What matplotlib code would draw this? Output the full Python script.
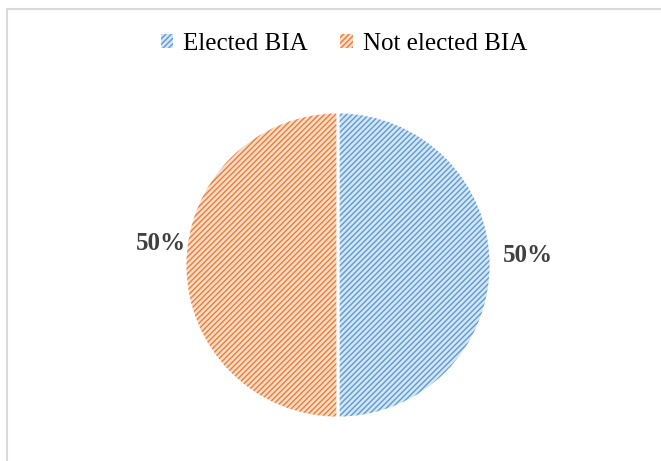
import matplotlib.pyplot as plt
from matplotlib.patches import Rectangle

labels = ["Elected BIA", "Not elected BIA"]
shares = [50, 50]
line_colors = ["#5b9bd5", "#ed7d31"]
fill_colors = ["#d5e5f5", "#fadccb"]

plt.rcParams['font.family'] = ['Liberation Serif', 'DejaVu Serif']

fig = plt.figure(figsize=(6.61, 4.61), dpi=100)
ax = fig.add_axes([0.222, 0.0103, 0.5787, 0.8297])

# hatched wedges (hatch takes the edge colour, edge itself hidden)
wedges, texts, autotexts = ax.pie(shares, startangle=90, counterclock=False,
                                  colors=fill_colors, autopct='%1.0f%%',
                                  pctdistance=1.2,
                                  wedgeprops=dict(linewidth=0, hatch='//////'),
                                  textprops=dict(fontsize=18, fontweight='bold',
                                                 color='#404040'))
for w, c in zip(wedges, line_colors):
    w.set_edgecolor(c)
    w.set_linewidth(0)

# white separators on top
ax.pie(shares, startangle=90, counterclock=False,
       wedgeprops=dict(fill=False, edgecolor='white', linewidth=2))

# nudge labels to where the original has them
for t, (dx, dy) in zip(autotexts, [(0.04, 0.06), (0.04, 0.14)]):
    x, y = t.get_position()
    t.set_position((x + dx, y + dy))

ax.set_xlim(-1.25, 1.25)
ax.set_ylim(-1.25, 1.25)
ax.set_aspect('equal')

fig.legend(wedges, labels, loc='center', bbox_to_anchor=(0.52, 0.905),
           ncol=2, frameon=False, fontsize=18, handlelength=0.5,
           handleheight=0.5, columnspacing=1.3, handletextpad=0.4)

fig.add_artist(Rectangle((7 / 661, -0.02), 1.1, 0.9805 + 0.02, fill=False,
                         edgecolor='#d9d9d9', linewidth=1.5,
                         transform=fig.transFigure))

fig.savefig('out.png', dpi=100)
